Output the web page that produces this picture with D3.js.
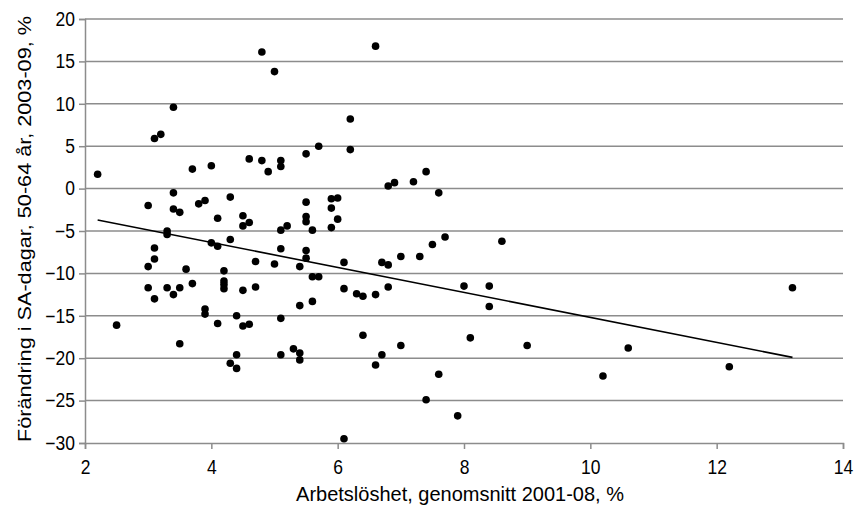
<!DOCTYPE html>
<html>
<head>
<meta charset="utf-8">
<script src="https://cdn.jsdelivr.net/npm/d3@7"></script>
<style>
  body { margin: 0; background: #fff; }
  text { font-family: "Liberation Sans", Arial, sans-serif; fill: #000; }
  .tall { transform-box: fill-box; transform-origin: center; transform: scaleY(1.12); }
</style>
</head>
<body>
<div id="chart"></div>
<script>
// Arbetslöshet (x) vs förändring i SA-dagar (y), one point per kommun
let unemployment = [
  2.2, 4.8, 5.0, 3.4, 3.1, 3.2, 4.6, 4.8, 5.1, 5.1, 4.9, 3.7, 4.0,
  3.4, 3.0, 3.4, 3.5, 3.8, 3.9, 4.3, 4.1, 4.5, 4.6, 4.5, 5.2, 5.1,
  3.3, 3.3, 3.1, 4.0, 4.1, 4.3, 5.1, 3.1, 3.0, 3.0, 3.1, 3.3, 3.4,
  3.5, 3.6, 3.7, 4.2, 4.2, 4.2, 4.2, 4.5, 4.7, 4.7, 5.0, 5.4, 5.4,
  2.5, 3.5, 3.9, 3.9, 4.1, 4.4, 4.5, 4.6, 4.3, 4.4, 4.4, 5.1, 5.1,
  5.3, 5.4, 5.4, 6.6, 6.2, 6.2, 5.7, 5.5, 7.4, 6.8, 6.9, 7.2, 7.6,
  5.5, 5.9, 6.0, 5.9, 5.5, 5.5, 6.0, 5.6, 5.9, 7.5, 7.7, 8.6, 5.5,
  5.5, 5.6, 5.7, 5.6, 6.1, 6.1, 6.3, 6.4, 6.6, 6.7, 6.8, 6.8, 7.0,
  7.3, 8.0, 8.4, 8.4, 6.4, 7.0, 8.1, 9.0, 6.7, 6.6, 7.6, 7.4, 7.9,
  6.1, 13.2, 10.6, 10.2, 12.2
];
let sickDays = [
  1.7, 16.1, 13.8, 9.6, 5.9, 6.4, 3.5, 3.3, 3.3, 2.6, 2.0, 2.3, 2.7,
  -0.5, -2.0, -2.4, -2.8, -1.8, -1.4, -1.0, -3.5, -3.2, -4.0, -4.4, -4.4, -4.9,
  -5.0, -5.4, -7.0, -6.4, -6.8, -6.0, -7.1, -8.3, -9.2, -11.7, -13.0, -11.7, -12.5,
  -11.7, -9.5, -11.2, -9.7, -10.9, -11.3, -11.8, -12.0, -8.6, -11.6, -8.9, -9.2, -13.8,
  -16.1, -18.3, -14.2, -14.8, -15.9, -15.0, -16.2, -16.0, -20.6, -19.6, -21.2, -15.3, -19.6,
  -18.9, -19.4, -20.2, 16.8, 8.2, 4.6, 5.0, 4.1, 2.0, 0.3, 0.7, 0.8, -0.5,
  -1.6, -1.2, -1.1, -2.3, -3.3, -3.9, -3.6, -4.9, -4.6, -6.6, -5.7, -6.2, -7.3,
  -8.2, -10.4, -10.4, -13.3, -8.7, -11.8, -12.4, -12.7, -12.5, -8.7, -9.0, -11.6, -8.0,
  -8.0, -11.5, -11.5, -13.9, -17.3, -18.5, -17.6, -18.5, -19.6, -20.8, -21.9, -24.9, -26.8,
  -29.5, -11.7, -18.8, -22.1, -21.0
];
// linjär trendlinje, ändpunkter
let trendX = [2.2, 13.2];
let trendY = [-3.7, -19.9];

let xTicks = [2, 4, 6, 8, 10, 12, 14];
let yTicks = [20, 15, 10, 5, 0, -5, -10, -15, -20, -25, -30];

let margin = {top: 19, right: 13, bottom: 63, left: 85},
    width = 856 - margin.left - margin.right,
    height = 506 - margin.top - margin.bottom;

let svg = d3.select("#chart").append("svg")
    .attr("width", 856)
    .attr("height", 506);

let g = svg.append("g")
    .attr("transform", "translate(" + margin.left + "," + margin.top + ")");

let xScale = d3.scaleLinear().domain([2, 14]).range([0, width]);
let yScale = d3.scaleLinear().domain([-30, 20]).range([height, 0]);

/* gridlines */
g.append("g")
    .attr("class", "grid")
    .selectAll("line")
    .data(yTicks.filter(function(d) { return d !== -30; }))
    .enter().append("line")
    .attr("x1", 0)
    .attr("x2", width)
    .attr("y1", function(d) { return yScale(d); })
    .attr("y2", function(d) { return yScale(d); })
    .attr("stroke", "#8c8c8c")
    .attr("stroke-width", 1.5);

/* axes */
let xAxis = d3.axisBottom(xScale).tickValues(xTicks).tickSize(6).tickPadding(12);
let yAxis = d3.axisLeft(yScale).tickValues(yTicks).tickSize(6).tickPadding(4);

let xAxis_g = g.append("g")
    .attr("transform", "translate(0," + height + ")")
    .call(xAxis);

let yAxis_g = g.append("g")
    .call(yAxis);

[xAxis_g, yAxis_g].forEach(function(ax) {
  ax.select(".domain").attr("stroke", "#8c8c8c").attr("stroke-width", 1.5);
  ax.selectAll(".tick line").attr("stroke", "#8c8c8c").attr("stroke-width", 1.5);
  ax.selectAll(".tick text")
      .attr("class", "tall")
      .style("font-family", "'Liberation Sans', Arial, sans-serif")
      .style("font-size", "17.5px")
      .attr("fill", "#000");
});

/* trend line */
g.append("line")
    .attr("x1", xScale(trendX[0]))
    .attr("y1", yScale(trendY[0]))
    .attr("x2", xScale(trendX[1]))
    .attr("y2", yScale(trendY[1]))
    .attr("stroke", "#000")
    .attr("stroke-width", 1.6);

/* points */
g.selectAll(".dot")
    .data(unemployment)
    .enter().append("circle")
    .attr("class", "dot")
    .attr("cx", function(d) { return xScale(d); })
    .attr("cy", function(d, i) { return yScale(sickDays[i]); })
    .attr("r", 3.8)
    .attr("fill", "#000");

/* axis titles */
svg.append("text")
    .attr("transform", "translate(460,501) scale(1,1.05)")
    .attr("text-anchor", "middle")
    .style("font-size", "20px")
    .text("Arbetslöshet, genomsnitt 2001-08, %");

svg.append("text")
    .attr("transform", "translate(31,229) rotate(-90) scale(1.14,1)")
    .attr("text-anchor", "middle")
    .style("font-size", "19px")
    .text("Förändring i SA-dagar, 50-64 år, 2003-09, %");
</script>
</body>
</html>
